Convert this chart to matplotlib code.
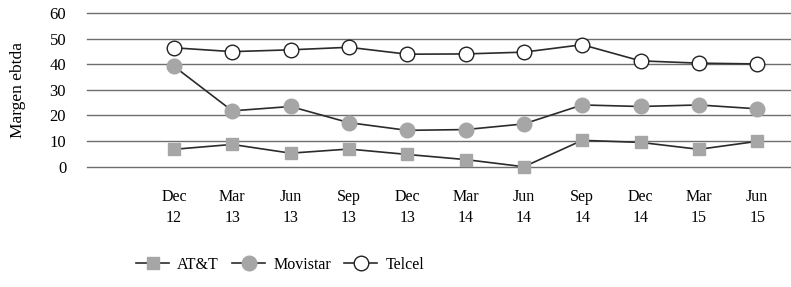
import numpy as np
import matplotlib
matplotlib.use('Agg')
from matplotlib import pyplot as plt

plt.rcParams['font.family'] = ['Liberation Serif', 'DejaVu Serif']

# Periods (quarter / year)
periods = ['Dec\n12', 'Mar\n13', 'Jun\n13', 'Sep\n13', 'Dec\n13', 'Mar\n14',
           'Jun\n14', 'Sep\n14', 'Dec\n14', 'Mar\n15', 'Jun\n15']
att = [6.8, 8.7, 5.3, 6.9, 4.8, 2.8, 0.0, 10.3, 9.5, 6.8, 9.9]
movistar = [39.2, 21.8, 23.5, 17.2, 14.2, 14.5, 16.7, 24.1, 23.5, 24.1, 22.6]
telcel = [46.4, 44.9, 45.6, 46.6, 43.9, 44.0, 44.7, 47.6, 41.3, 40.4, 40.1]
y_ticks = [0, 10, 20, 30, 40, 50, 60]

x = np.arange(len(periods))
fig = plt.figure(figsize=(7.91, 2.87), dpi=100)
ax = fig.add_axes([0.11, 0.419, 0.89, 0.536])

gray = '#a6a6a6'
line_c = '#2b2b2b'
ax.plot(x, att, color=line_c, lw=1.2, marker='s', ms=9, mfc=gray, mec=gray,
        label='AT&T', clip_on=False, zorder=3)
ax.plot(x, movistar, color=line_c, lw=1.2, marker='o', ms=10.5, mfc=gray, mec=gray,
        label='Movistar', clip_on=False, zorder=3)
ax.plot(x, telcel, color=line_c, lw=1.2, marker='o', ms=10.5, mfc='white', mec='#222222',
        mew=1.0, label='Telcel', clip_on=False, zorder=3)

ax.set_ylim(0, 60)
ax.set_xlim(-1.49, 10.58)
ax.set_yticks(y_ticks)
ax.yaxis.grid(True, color='#6e6e6e', lw=1.0)
for gl in ax.get_ygridlines():
    gl.set_clip_on(False)
ax.set_axisbelow(True)
for s in ax.spines.values():
    s.set_visible(False)
ax.set_xticks(x)
ax.set_xticklabels(periods, linespacing=1.45)
ax.tick_params(axis='x', length=0, pad=16, labelsize=11.5)
ax.tick_params(axis='y', length=0, pad=15, labelsize=12)
ax.set_ylabel('Margen ebtda', fontsize=12.5, labelpad=17)

fig.legend(loc='center', bbox_to_anchor=(280 / 791, 1 - 265 / 287), ncol=3,
           frameon=False, fontsize=11.5, handlelength=2.1, columnspacing=0.8,
           handletextpad=0.5)

fig.savefig('out.png', dpi=100)
